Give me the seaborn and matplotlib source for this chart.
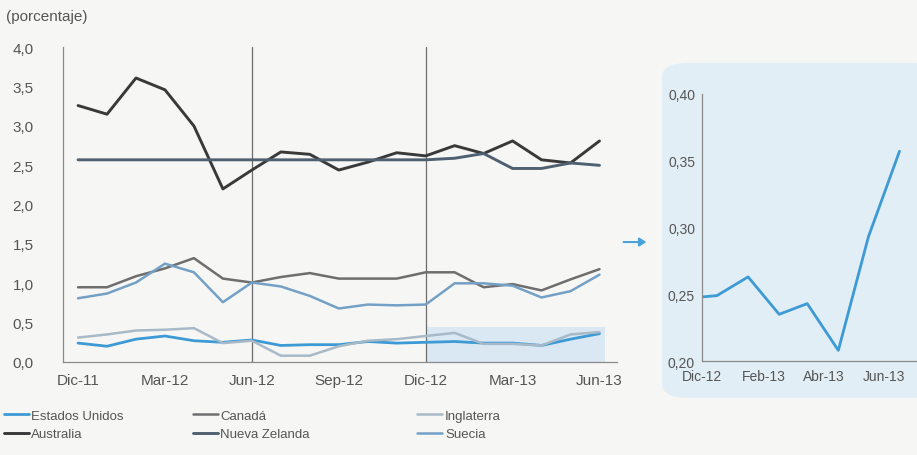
import matplotlib.pyplot as plt
from matplotlib.patches import FancyBboxPatch, FancyArrowPatch
import pandas as pd
import numpy as np
import seaborn as sns

# datos
meses = ["Dic-11", "Ene-12", "Feb-12", "Mar-12", "Abr-12", "May-12", "Jun-12",
         "Jul-12", "Ago-12", "Sep-12", "Oct-12", "Nov-12", "Dic-12", "Ene-13",
         "Feb-13", "Mar-13", "Abr-13", "May-13", "Jun-13"]
ticks_meses = ["Dic-11", "Mar-12", "Jun-12", "Sep-12", "Dic-12", "Mar-13", "Jun-13"]

estados_unidos = [0.24, 0.20, 0.29, 0.33, 0.27, 0.25, 0.28, 0.21, 0.22, 0.22,
                  0.26, 0.24, 0.25, 0.26, 0.24, 0.24, 0.21, 0.29, 0.36]
canada = [0.95, 0.95, 1.09, 1.19, 1.32, 1.06, 1.01, 1.08, 1.13, 1.06,
          1.06, 1.06, 1.14, 1.14, 0.95, 0.99, 0.91, 1.05, 1.18]
inglaterra = [0.31, 0.35, 0.40, 0.41, 0.43, 0.24, 0.27, 0.08, 0.08, 0.20,
              0.27, 0.29, 0.33, 0.37, 0.23, 0.23, 0.21, 0.35, 0.38]
australia = [3.26, 3.15, 3.61, 3.46, 3.00, 2.20, 2.44, 2.67, 2.64, 2.44,
             2.54, 2.66, 2.62, 2.75, 2.65, 2.81, 2.57, 2.53, 2.81]
nueva_zelanda = [2.57, 2.57, 2.57, 2.57, 2.57, 2.57, 2.57, 2.57, 2.57, 2.57,
                 2.57, 2.57, 2.57, 2.59, 2.65, 2.46, 2.46, 2.53, 2.50]
suecia = [0.81, 0.87, 1.01, 1.25, 1.14, 0.76, 1.01, 0.96, 0.84, 0.68,
          0.73, 0.72, 0.73, 1.00, 1.00, 0.97, 0.82, 0.90, 1.11]

# detalle EE.UU. (recuadro)
fechas_zoom = ["2012-12-01", "2012-12-16", "2013-01-16", "2013-02-16",
               "2013-03-16", "2013-04-16", "2013-05-16", "2013-06-16"]
eeuu_zoom = [0.248, 0.249, 0.263, 0.235, 0.243, 0.208, 0.293, 0.357]
ticks_zoom = ["2012-12-01", "2013-02-01", "2013-04-01", "2013-06-01"]
ticks_zoom_txt = ["Dic-12", "Feb-13", "Abr-13", "Jun-13"]

series = [
    ("Estados Unidos", estados_unidos, "#3d9ad5", 2.0),
    ("Australia", australia, "#393939", 2.1),
    ("Canadá", canada, "#6e6e6e", 1.8),
    ("Nueva Zelanda", nueva_zelanda, "#4f6070", 2.1),
    ("Inglaterra", inglaterra, "#a8b9c8", 1.8),
    ("Suecia", suecia, "#74a0c6", 1.8),
]

sns.set_style("white")
plt.rcParams['font.family'] = ['Liberation Sans', 'DejaVu Sans']
plt.rcParams['font.size'] = 9

fondo = "#f6f7f5"
gris_txt = "#555555"
fig = plt.figure(figsize=(9.17, 4.56), dpi=100, facecolor=fondo)

# panel del recuadro (detras de los ejes)
panel = FancyBboxPatch((0.722, 0.125), 0.30, 0.735, transform=fig.transFigure,
                       boxstyle="round,pad=0,rounding_size=0.03",
                       facecolor="#e2eef5", edgecolor="none", zorder=-5)
fig.patches.append(panel)

ax = fig.add_axes([0.0687, 0.204, 0.604, 0.69])
ax.set_facecolor(fondo)

x = np.arange(len(meses))
ax.axvspan(12, 18.2, ymin=0, ymax=0.45 / 4, color="#d9e8f3", lw=0, zorder=0)
for xv in (6, 12):
    ax.axvline(xv, color="#6d6d6d", lw=0.9, zorder=1)

for nombre, valores, color, lw in series:
    sns.lineplot(x=x, y=valores, color=color, linewidth=lw, label=nombre, ax=ax, zorder=3)

ax.set_xlim(-0.52, 18.6)
ax.set_ylim(0, 4)
ax.set_xticks([meses.index(m) for m in ticks_meses])
ax.set_xticklabels(ticks_meses)
yt = np.arange(0, 4.01, 0.5)
ax.set_yticks(yt)
ax.set_yticklabels([f"{v:.1f}".replace(".", ",") for v in yt])
ax.set_xlabel("")
ax.set_ylabel("")
ax.tick_params(axis='both', direction='in', length=3, color="#999999",
               labelcolor=gris_txt, labelsize=11)
ax.tick_params(axis='y', pad=21)
ax.tick_params(axis='x', pad=8)
sns.despine(ax=ax)
for s in ("left", "bottom"):
    ax.spines[s].set_color("#8a8a8a")
    ax.spines[s].set_linewidth(0.9)

handles, labels = ax.get_legend_handles_labels()
ax.get_legend().remove()
cols = [(0.004, [0, 1]), (0.21, [2, 3]), (0.455, [4, 5])]
for xpos, idx in cols:
    fig.legend([handles[i] for i in idx], [labels[i] for i in idx],
               loc="upper left", bbox_to_anchor=(xpos, 0.1), frameon=False,
               handlelength=1.9, handletextpad=0.2, labelspacing=0.5,
               borderpad=0, borderaxespad=0, fontsize=9.5, labelcolor=gris_txt)

fig.text(0.006, 0.962, "(porcentaje)", fontsize=11, color=gris_txt, va="center")

# flecha
fig.patches.append(FancyArrowPatch(
    (0.677, 0.467), (0.708, 0.467), transform=fig.transFigure,
    arrowstyle="-|>,head_length=4,head_width=2.5", color="#4aa3d8", lw=1.5))

# recuadro EE.UU.
ax2 = fig.add_axes([0.7655, 0.206, 0.234, 0.586])
ax2.set_facecolor("none")
fz = pd.to_datetime(fechas_zoom)
sns.lineplot(x=fz, y=eeuu_zoom, color="#3d9ad5", linewidth=2.0, ax=ax2)
ax2.set_xlim(pd.Timestamp("2012-12-01"), pd.Timestamp("2013-07-03"))
ax2.set_ylim(0.20, 0.40)
ax2.set_xticks(pd.to_datetime(ticks_zoom))
ax2.set_xticklabels(ticks_zoom_txt)
ax2.set_yticks([0.20, 0.25, 0.30, 0.35, 0.40])
ax2.set_yticklabels(["0,20", "0,25", "0,30", "0,35", "0,40"])
ax2.set_xlabel("")
ax2.set_ylabel("")
ax2.tick_params(axis='both', direction='in', length=3, color="#999999",
                labelcolor=gris_txt, labelsize=10)
ax2.tick_params(axis='y', pad=5)
ax2.tick_params(axis='x', pad=6)
sns.despine(ax=ax2)
for s in ("left", "bottom"):
    ax2.spines[s].set_color("#8a8a8a")
    ax2.spines[s].set_linewidth(0.9)

fig.savefig("out.png", dpi=100, facecolor=fondo)
